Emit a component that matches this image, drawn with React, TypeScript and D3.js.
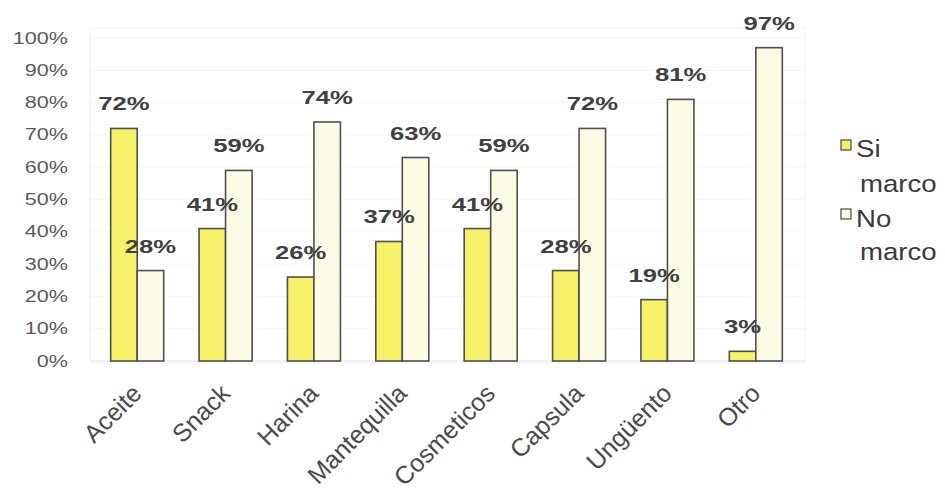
import React from "react";
import * as d3 from "d3";

const categories = ["Aceite", "Snack", "Harina", "Mantequilla", "Cosmeticos", "Capsula", "Ungüento", "Otro"];
const siMarco = [72, 41, 26, 37, 41, 28, 19, 3];
const noMarco = [28, 59, 74, 63, 59, 72, 81, 97];
const yTicks = [0, 10, 20, 30, 40, 50, 60, 70, 80, 90, 100];
const legendLines = [["Si", "marco"], ["No", "marco"]];

const W = 945;
const H = 500;
const plotLeft = 93;
const plotRight = 800;
const plotTop = 38;
const plotBottom = 361;

export default function App() {
  const x = d3.scaleBand<string>().domain(categories).range([plotLeft, plotRight]).paddingInner(0).paddingOuter(0);
  const y = d3.scaleLinear().domain([0, 100]).range([plotBottom, plotTop]);
  const barW = 26.5;
  const font = "'Liberation Sans', Arial, sans-serif";
  const series = [
    { values: siMarco, fill: "#f6f168", offset: -barW },
    { values: noMarco, fill: "#fcfce6", offset: 0 },
  ];
  return (
    <svg width={W} height={H} style={{ position: "absolute", left: 0, top: 0, background: "#fff" }}>
      <rect x={0} y={0} width={W} height={H} fill="#fff" />
      <rect x={plotLeft - 3} y={plotTop - 10} width={plotRight - plotLeft + 8} height={plotBottom - plotTop + 12} fill="none" stroke="#f2f2f2" />
      {yTicks.map((t) => (
        <line key={"g" + t} x1={plotLeft - 3} x2={plotRight + 5} y1={y(t)} y2={y(t)} stroke={t === 0 ? "#e4e4e4" : "#f5f5f5"} />
      ))}
      {yTicks.map((t) => (
        <text
          key={"t" + t}
          transform={`translate(68,${y(t) + 5.5}) scale(1.35,1)`}
          textAnchor="end"
          fontFamily={font}
          fontSize={16}
          fill="#5a5a5a"
        >
          {t}%
        </text>
      ))}
      {series.map((s, si) =>
        categories.map((c, i) => {
          const cx = (x(c) as number) + x.bandwidth() / 2;
          const bx = cx + s.offset;
          return (
            <rect key={"b" + si + c} x={bx} y={y(s.values[i])} width={barW} height={plotBottom - y(s.values[i])} fill={s.fill} stroke="#4f4f4f" strokeWidth={1.6} />
          );
        })
      )}
      {series.map((s, si) =>
        categories.map((c, i) => {
          const cx = (x(c) as number) + x.bandwidth() / 2;
          const lx = cx + s.offset + barW / 2;
          return (
            <text
              key={"v" + si + c}
              transform={`translate(${lx},${y(s.values[i]) - 18}) scale(1.35,1)`}
              textAnchor="middle"
              fontFamily={font}
              fontWeight="bold"
              fontSize={19}
              fill="#404040"
            >
              {s.values[i]}%
            </text>
          );
        })
      )}
      {categories.map((c) => {
        const cx = (x(c) as number) + x.bandwidth() / 2;
        return (
          <text
            key={"x" + c}
            transform={`translate(${cx + 6},${plotBottom + 34}) rotate(-45)`}
            textAnchor="end"
            fontFamily={font}
            fontSize={25}
            fill="#4a4a4a"
          >
            {c}
          </text>
        );
      })}
      {series.map((s, si) => (
        <g key={"l" + si}>
          <rect x={841} y={140 + si * 69} width={10} height={10} fill={s.fill} stroke="#555" strokeWidth={1.3} />
          <text transform={`translate(856,${157 + si * 70}) scale(1.15,1)`} fontFamily={font} fontSize={24} fill="#3a3a3a">
            {legendLines[si][0]}
          </text>
          <text transform={`translate(860,${192 + si * 68}) scale(1.15,1)`} fontFamily={font} fontSize={24} fill="#3a3a3a">
            {legendLines[si][1]}
          </text>
        </g>
      ))}
    </svg>
  );
}
